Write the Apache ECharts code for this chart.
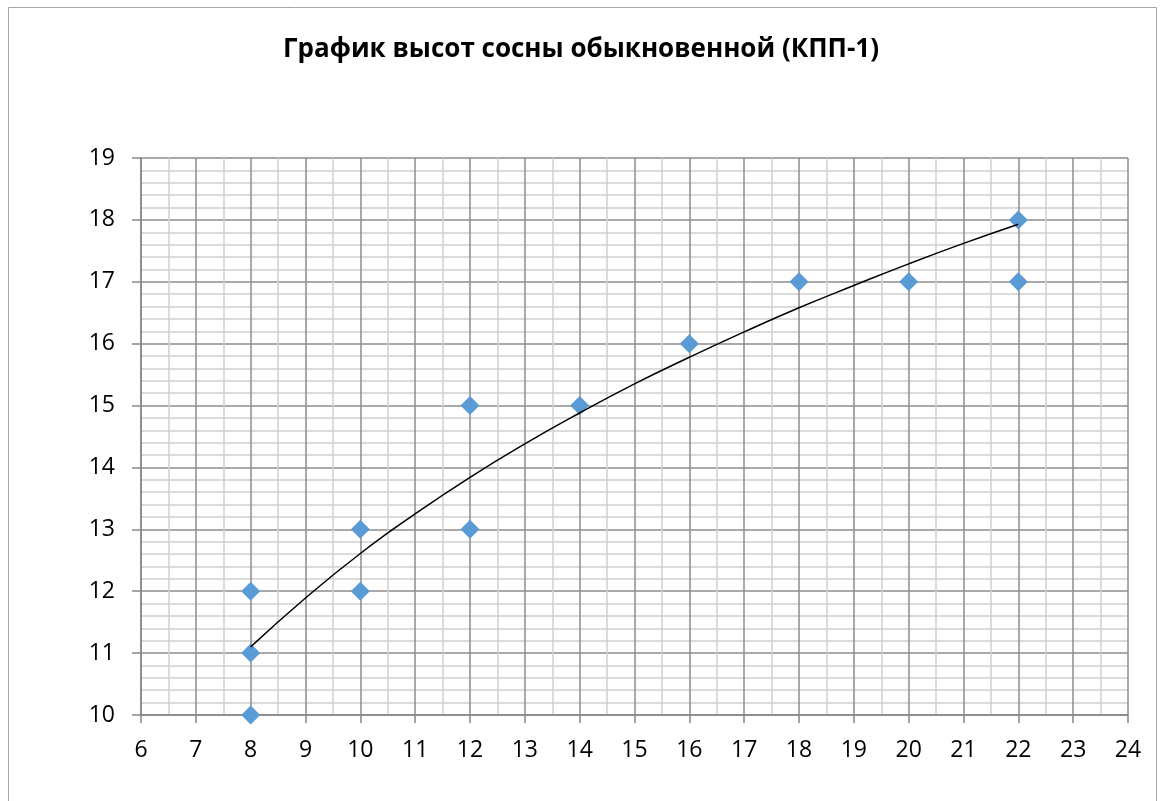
<!DOCTYPE html>
<html>
<head>
<meta charset="utf-8">
<script src="https://cdn.jsdelivr.net/npm/echarts@6/dist/echarts.min.js"></script>
<style>
html,body{margin:0;padding:0;background:#fff;}
#c{width:1162px;height:801px;}
</style>
</head>
<body>
<div id="c"></div>
<script>
// Observed data: age (x) vs height (y)
const ages    = [8, 8, 8, 10, 10, 12, 12, 14, 16, 18, 20, 22, 22];
const heights = [10, 11, 12, 12, 13, 13, 15, 15, 16, 17, 17, 18, 17];
// Trendline (logarithmic) values
const trendX = [8, 9, 10, 11, 12, 13, 14, 15, 16, 17, 18, 19, 20, 21, 22];
const trendY = [11.10, 11.89, 12.61, 13.25, 13.84, 14.38, 14.88, 15.35, 15.78, 16.19, 16.58, 16.94, 17.29, 17.62, 17.93];
const xTicks = [6, 24, 1];
const yTicks = [10, 19, 1];
const titleText = 'График высот сосны обыкновенной (КПП-1)';

const chart = echarts.init(document.getElementById('c'), null, {renderer: 'canvas'});
const font = '"Open Sans", "Noto Sans", sans-serif';
chart.setOption({
  animation: false,
  backgroundColor: '#ffffff',
  title: {
    text: titleText,
    left: 'center',
    top: 32,
    textStyle: {fontFamily: font, fontWeight: 'bold', fontSize: 26, color: '#000'}
  },
  graphic: [{
    type: 'rect',
    shape: {x: 8.5, y: 7.5, width: 1148, height: 800},
    style: {fill: 'none', stroke: '#a6a6a6', lineWidth: 1},
    silent: true
  }],
  grid: {left: 141, right: 34, top: 158, bottom: 86},
  xAxis: {
    type: 'value',
    min: xTicks[0], max: xTicks[1], interval: xTicks[2],
    axisLine: {show: true, onZero: false, lineStyle: {color: '#868686', width: 1.5}},
    axisTick: {show: true, length: 8, lineStyle: {color: '#868686', width: 1.5}},
    axisLabel: {fontFamily: font, fontSize: 23, color: '#000', margin: 24},
    splitLine: {show: true, lineStyle: {color: '#8c8c8c', width: 1.5}},
    minorTick: {show: false, splitNumber: 2},
    minorSplitLine: {show: true, lineStyle: {color: '#d0d0d0', width: 1.5}}
  },
  yAxis: {
    type: 'value',
    min: yTicks[0], max: yTicks[1], interval: yTicks[2],
    axisLine: {show: true, onZero: false, lineStyle: {color: '#868686', width: 1.5}},
    axisTick: {show: true, length: 9, lineStyle: {color: '#868686', width: 1.5}},
    axisLabel: {fontFamily: font, fontSize: 23, color: '#000', margin: 26},
    splitLine: {show: true, lineStyle: {color: '#8c8c8c', width: 1.5}},
    minorTick: {show: false, splitNumber: 5},
    minorSplitLine: {show: true, lineStyle: {color: '#d0d0d0', width: 1.5}}
  },
  series: [
    {
      type: 'scatter',
      symbol: 'diamond',
      symbolSize: 19,
      itemStyle: {color: '#5b9bd5', opacity: 1},
      data: ages.map((a, i) => [a, heights[i]]),
      z: 2
    },
    {
      type: 'line',
      smooth: true,
      showSymbol: false,
      symbol: 'none',
      lineStyle: {color: '#000', width: 1.5},
      data: trendX.map((x, i) => [x, trendY[i]]),
      z: 3
    }
  ]
});
</script>
</body>
</html>
